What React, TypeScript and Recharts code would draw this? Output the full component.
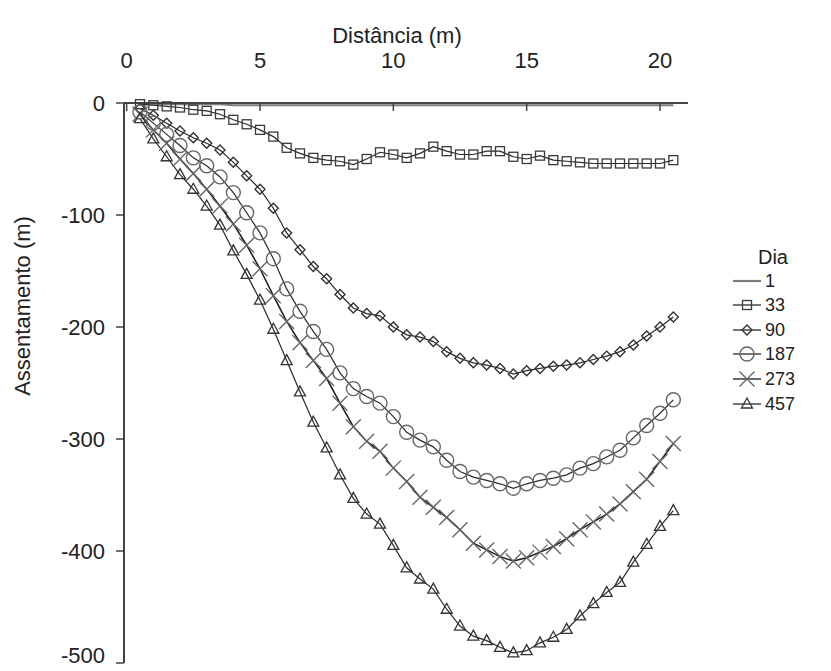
import React from 'react';
import { LineChart, Line, XAxis, YAxis, Legend } from 'recharts';

const FONT = '"Liberation Sans", Arial, sans-serif';

// Distância (m)
const distances = [
  0.5, 1, 1.5, 2, 2.5, 3, 3.5, 4, 4.5, 5, 5.5, 6, 6.5, 7, 7.5, 8, 8.5, 9, 9.5, 10,
  10.5, 11, 11.5, 12, 12.5, 13, 13.5, 14, 14.5, 15, 15.5, 16, 16.5, 17, 17.5, 18, 18.5, 19, 19.5, 20, 20.5,
];

// Assentamento por dia
const dia1 = [
  -1, -1, -1, -1, -1, -1, -1, -2, -2, -2, -2, -2, -2, -2, -2, -2, -2, -2, -2, -2,
  -2, -2, -2, -2, -2, -2, -2, -2, -2, -2, -2, -2, -2, -2, -2, -2, -2, -2, -2, -2, -2,
];
const dia33 = [
  -1, -2, -3, -4, -6, -7, -10, -15, -19, -24, -30, -40, -45, -49, -51, -52, -55, -50, -44, -46,
  -49, -45, -39, -43, -46, -46, -43, -43, -48, -50, -47, -51, -52, -53, -54, -54, -54, -54, -54, -54, -51,
];
const dia90 = [
  -5, -11, -18, -25, -31, -36, -42, -53, -65, -77, -94, -116, -131, -146, -157, -171, -183, -188, -190, -200,
  -207, -209, -213, -222, -228, -232, -234, -237, -242, -239, -237, -235, -234, -232, -229, -226, -222, -216, -208, -200, -191,
];
const dia187 = [
  -8, -18, -28, -38, -49, -56, -66, -80, -98, -116, -139, -166, -186, -204, -220, -241, -255, -262, -268, -280,
  -294, -301, -307, -319, -329, -334, -337, -340, -344, -340, -337, -335, -332, -326, -322, -316, -310, -299, -288, -277, -265,
];
const dia273 = [
  -10, -24, -36, -50, -63, -77, -92, -108, -127, -148, -172, -195, -214, -230, -246, -268, -289, -302, -311, -326,
  -338, -352, -361, -370, -381, -393, -399, -405, -409, -406, -401, -396, -389, -381, -374, -367, -358, -347, -336, -320, -304,
];
const dia457 = [
  -14, -32, -48, -64, -77, -92, -109, -132, -153, -176, -202, -230, -258, -285, -308, -332, -353, -367, -376, -395,
  -415, -425, -434, -452, -467, -476, -480, -486, -491, -489, -482, -477, -470, -458, -447, -437, -428, -410, -394, -378, -364,
];

const seriesNames = ['1', '33', '90', '187', '273', '457'];
const xTicks = [0, 5, 10, 15, 20];
const yTicks = [0, -100, -200, -300, -400, -500];

const data = distances.map((d, i) => ({
  x: d,
  d1: dia1[i],
  d33: dia33[i],
  d90: dia90[i],
  d187: dia187[i],
  d273: dia273[i],
  d457: dia457[i],
}));

type Kind = 'none' | 'square' | 'diamond' | 'circle' | 'cross' | 'triangle';
const kinds: Kind[] = ['none', 'square', 'diamond', 'circle', 'cross', 'triangle'];
const keys = ['d1', 'd33', 'd90', 'd187', 'd273', 'd457'];
const lineColors = ['#7d7d7d', '#2a2a2a', '#2a2a2a', '#2a2a2a', '#1a1a1a', '#2a2a2a'];
const lineWidths = [2.2, 1.2, 1.2, 1.2, 1.5, 1.2];

function marker(kind: Kind, cx: number, cy: number, key: any) {
  switch (kind) {
    case 'square':
      return <rect key={key} x={cx - 4.5} y={cy - 4.5} width={9} height={9} fill="none" stroke="#3a3a3a" strokeWidth={1.3} />;
    case 'diamond':
      return (
        <path key={key} d={`M${cx},${cy - 5}L${cx + 5},${cy}L${cx},${cy + 5}L${cx - 5},${cy}Z`} fill="none" stroke="#333" strokeWidth={1.4} />
      );
    case 'circle':
      return <circle key={key} cx={cx} cy={cy} r={7} fill="none" stroke="#666" strokeWidth={1.4} />;
    case 'cross':
      return (
        <path key={key} d={`M${cx - 7.5},${cy - 7.5}L${cx + 7.5},${cy + 7.5}M${cx - 7.5},${cy + 7.5}L${cx + 7.5},${cy - 7.5}`} stroke="#666" strokeWidth={1.4} fill="none" />
      );
    case 'triangle':
      return <path key={key} d={`M${cx},${cy - 6}L${cx + 5.5},${cy + 4}L${cx - 5.5},${cy + 4}Z`} fill="none" stroke="#333" strokeWidth={1.3} />;
    default:
      return <g key={key} />;
  }
}

const makeDot = (kind: Kind) => (p: any) => {
  const k = `dot-${kind}-${p.index}`;
  if (p.cx == null || p.cy == null) return <g key={k} />;
  return marker(kind, p.cx, p.cy, k);
};

const TopTick = (p: any) => {
  const { x, y, payload } = p;
  return (
    <g>
      <line x1={x} x2={x} y1={y + 35} y2={y + 43} stroke="#444" strokeWidth={1.5} />
      <text x={x} y={y} textAnchor="middle" fontSize={22} fill="#222" fontFamily={FONT}>
        {payload.value}
      </text>
    </g>
  );
};

const LegendBox = () => {
  const ys = [41, 65, 90, 114, 139, 164];
  return (
    <svg width={100} height={180} style={{ display: 'block' }}>
      <text x={48} y={24} textAnchor="middle" fontSize={20} fill="#222" fontFamily={FONT}>
        Dia
      </text>
      {seriesNames.map((name, i) => (
        <g key={name}>
          <line x1={8} x2={36} y1={ys[i]} y2={ys[i]} stroke={lineColors[i]} strokeWidth={i === 0 ? 2.2 : 1.3} />
          {marker(kinds[i], 22, ys[i], `lg-${i}`)}
          <text x={40} y={ys[i] + 6} fontSize={18} fill="#222" fontFamily={FONT}>
            {name}
          </text>
        </g>
      ))}
    </svg>
  );
};

export default function App() {
  return (
    <LineChart
      width={815}
      height={660}
      data={data}
      margin={{ top: 10, right: 135, bottom: 5, left: 0 }}
      style={{ fontFamily: FONT, background: '#fff' }}
    >
      <XAxis
        dataKey="x"
        type="number"
        orientation="top"
        domain={[-0.1, 21.05]}
        ticks={xTicks}
        height={85}
        tickSize={0}
        tickMargin={35}
        tickLine={false}
        axisLine={{ stroke: '#444', strokeWidth: 2 }}
        tick={(p: any) => <TopTick {...p} />}
        label={() => (
          <text x={389} y={35} textAnchor="middle" fontSize={22} fill="#222" fontFamily={FONT}>
            Distância (m)
          </text>
        )}
      />
      <YAxis
        type="number"
        domain={[-500, 0]}
        ticks={yTicks}
        width={116}
        tickSize={8}
        tickMargin={11}
        axisLine={{ stroke: '#444', strokeWidth: 2 }}
        tickLine={{ stroke: '#444', strokeWidth: 1.5 }}
        tick={{ fontSize: 22, fill: '#222', fontFamily: FONT }}
        label={() => (
          <text
            x={14}
            y={298}
            transform="rotate(-90, 14, 298)"
            textAnchor="middle"
            dominantBaseline="central"
            fontSize={22}
            fill="#222"
            fontFamily={FONT}
          >
            Assentamento (m)
          </text>
        )}
      />
      <Legend
        layout="horizontal"
        align="center"
        verticalAlign="middle"
        wrapperStyle={{ left: 717, top: 232, width: 100, height: 180 }}
        content={() => <LegendBox />}
      />
      {keys.map((k, i) => (
        <Line
          key={k}
          type="linear"
          dataKey={k}
          name={seriesNames[i]}
          stroke={lineColors[i]}
          strokeWidth={lineWidths[i]}
          dot={kinds[i] === 'none' ? false : makeDot(kinds[i])}
          activeDot={false}
          isAnimationActive={false}
        />
      ))}
    </LineChart>
  );
}
